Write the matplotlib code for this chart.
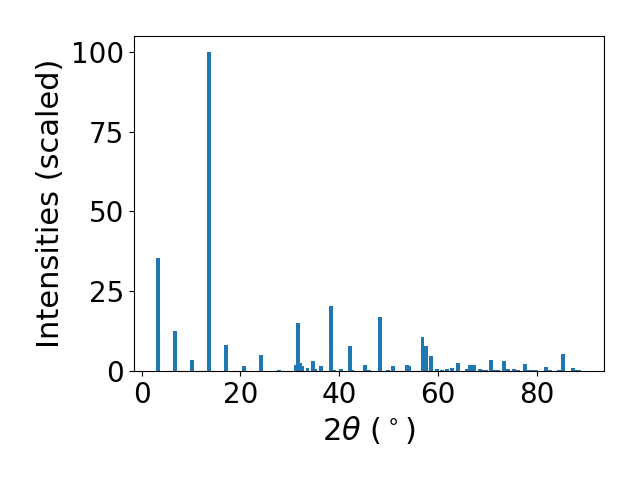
import matplotlib
matplotlib.use('Agg')
import matplotlib.pyplot as plt

# Posiciones de los picos (2theta) e intensidades escaladas
dos_theta = [3.35, 6.8, 10.2, 13.7, 17.1, 20.8, 24.2, 27.9,
             31.3, 31.7, 32.1, 32.5, 33.6, 34.8, 35.2, 36.4,
             38.4, 38.9, 40.4, 42.2, 42.7, 45.3, 46.1, 48.2,
             50.0, 51.0, 53.8, 54.2, 56.9, 57.7, 58.7, 59.9,
             60.8, 61.8, 62.8, 64.0, 66.0, 66.6, 67.4, 68.5,
             69.1, 69.7, 70.7, 71.3, 72.1, 73.5, 74.3, 75.5,
             76.3, 77.6, 78.4, 79.2, 79.9, 82.0, 82.8, 84.5,
             85.3, 87.3, 88.0, 88.6]
intensidad = [35.4, 12.5, 3.4, 100.0, 8.1, 1.6, 5.0, 0.3,
              1.9, 15.0, 2.5, 1.6, 1.0, 3.1, 0.6, 1.6,
              20.4, 0.3, 0.6, 7.8, 0.3, 1.9, 0.3, 16.9,
              0.4, 1.6, 1.9, 1.6, 10.7, 7.8, 4.7, 0.6,
              0.3, 0.6, 0.9, 2.5, 0.6, 1.9, 1.9, 0.6,
              0.3, 0.3, 3.4, 0.3, 0.3, 3.1, 0.6, 0.6,
              0.3, 2.2, 0.3, 0.3, 0.3, 1.25, 0.3, 0.3,
              5.3, 0.9, 0.3, 0.3]
yticks = [0, 25, 50, 75, 100]

fig, ax = plt.subplots(figsize=(6.4, 4.8), dpi=100)
fig.subplots_adjust(left=0.209, right=0.944, top=0.925, bottom=0.227)

ax.bar(dos_theta, intensidad)
ax.set_xlim(-1.6, 93.7)
ax.set_yticks(yticks)
ax.tick_params(labelsize=20)
ax.set_xlabel(r'$2\theta\ (^\circ)$', fontsize=22)
ax.set_ylabel('Intensities (scaled)', fontsize=22)

plt.savefig('out.png')
